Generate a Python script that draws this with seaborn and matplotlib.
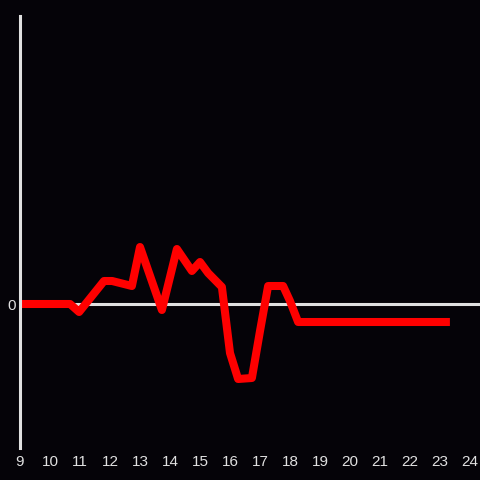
import matplotlib
matplotlib.use('Agg')
import matplotlib.pyplot as plt
import seaborn as sns
import pandas as pd

# данные
hours = [9.0, 10.67, 10.97, 11.8, 12.07, 12.73, 13.0, 13.73, 14.23, 14.73, 15.0,
         15.27, 15.73, 16.0, 16.27, 16.73, 17.0, 17.27, 17.77, 18.0, 18.27, 23.33]
values = [0.0, 0.0, -0.08, 0.23, 0.23, 0.18, 0.57, -0.06, 0.55, 0.33, 0.42,
          0.31, 0.17, -0.49, -0.75, -0.74, -0.27, 0.18, 0.18, 0.03, -0.18, -0.18]
x_ticks = list(range(9, 25))

df = pd.DataFrame({'hour': hours, 'value': values})

bg = '#050308'
axis_col = '#e0e0e0'

sns.set_style('dark')
plt.rcParams['font.family'] = ['Liberation Sans', 'DejaVu Sans']

fig = plt.figure(figsize=(4.8, 4.8), dpi=100, facecolor=bg)
ax = fig.add_axes([20 / 480, 32 / 480, 460 / 480, 432 / 480])
ax.set_facecolor(bg)

ax.axhline(0, color=axis_col, linewidth=2.2, zorder=1)
sns.lineplot(data=df, x='hour', y='value', ax=ax, color='#ff0000',
             linewidth=5.8, zorder=3, sort=False,
             solid_capstyle='butt', solid_joinstyle='round')

ax.set_xlim(9, 24.333)
ax.set_ylim(-1.44, 2.88)
ax.set_xticks(x_ticks)
ax.set_xticklabels([str(t) for t in x_ticks])
ax.set_yticks([0])
ax.set_yticklabels(['0'])
ax.tick_params(axis='both', length=0, colors=axis_col, labelsize=11)
ax.tick_params(axis='x', pad=5)
ax.tick_params(axis='y', pad=3)
ax.set_xlabel('')
ax.set_ylabel('')
ax.grid(False)

for s in ['top', 'right', 'bottom']:
    ax.spines[s].set_visible(False)
ax.spines['left'].set_visible(True)
ax.spines['left'].set_color(axis_col)
ax.spines['left'].set_linewidth(2.2)
ax.spines['left'].set_zorder(5)

fig.savefig('out.png', dpi=100, facecolor=bg)
